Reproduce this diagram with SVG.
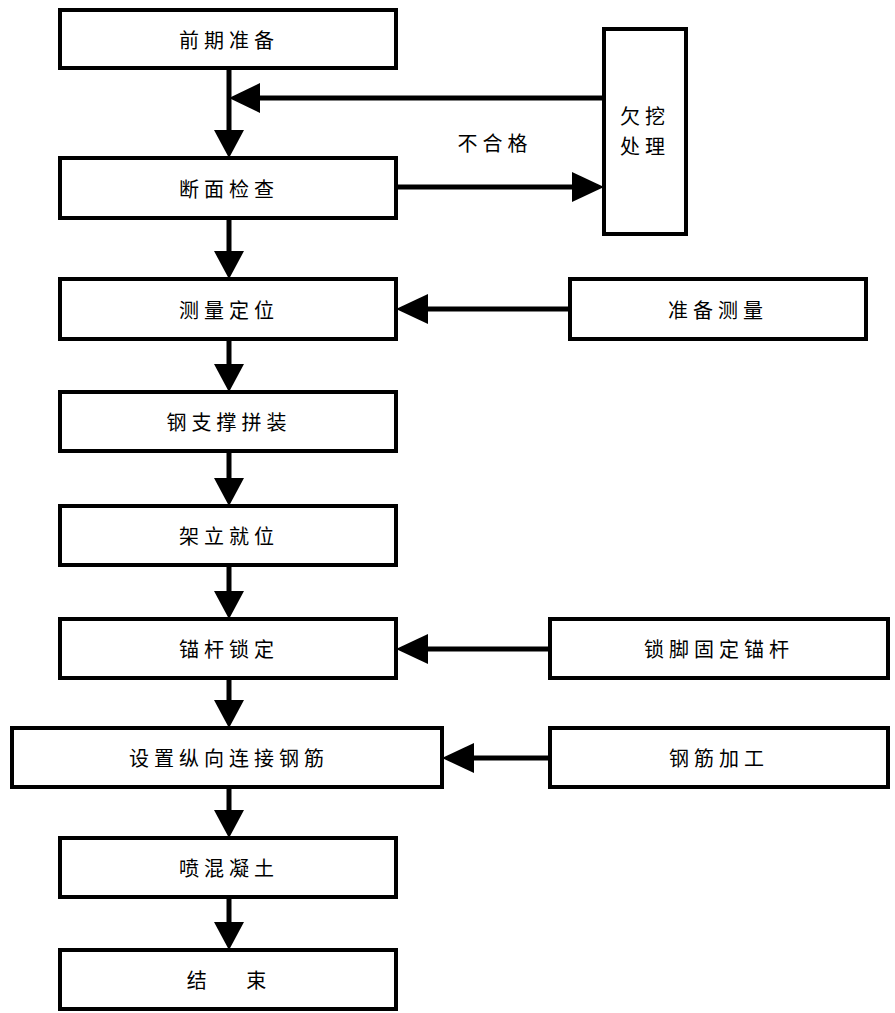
<svg xmlns="http://www.w3.org/2000/svg" width="895" height="1013" viewBox="0 0 895 1013">
<style>
rect{fill:#fff;stroke:#000;stroke-width:4}
text{font-family:"Noto Sans CJK SC","Noto Sans",sans-serif;font-size:20px;letter-spacing:5px;text-anchor:middle;dominant-baseline:central}
.c line{stroke:#000;stroke-width:5}
.c polygon{fill:#000}
</style>
<rect x="0" y="0" width="895" height="1013" style="stroke:none"/>
<g class="c">
<line x1="229" y1="68" x2="229" y2="132"/><polygon points="214,130 244,130 229,158"/>
<line x1="229" y1="218" x2="229" y2="253"/><polygon points="214,251 244,251 229,279"/>
<line x1="229" y1="339" x2="229" y2="366"/><polygon points="214,364 244,364 229,392"/>
<line x1="229" y1="451" x2="229" y2="480"/><polygon points="214,478 244,478 229,506"/>
<line x1="229" y1="565" x2="229" y2="593"/><polygon points="214,591 244,591 229,619"/>
<line x1="229" y1="678" x2="229" y2="702"/><polygon points="214,700 244,700 229,728"/>
<line x1="229" y1="787" x2="229" y2="812"/><polygon points="214,810 244,810 229,838"/>
<line x1="229" y1="897" x2="229" y2="924"/><polygon points="214,922 244,922 229,950"/>
<line x1="604" y1="98" x2="258" y2="98"/><polygon points="260,83 260,113 229,98"/>
<line x1="396" y1="187" x2="574" y2="187"/><polygon points="572,172 572,202 604,187"/>
<line x1="570" y1="309" x2="426" y2="309"/><polygon points="428,294 428,324 396,309"/>
<line x1="550" y1="649" x2="426" y2="649"/><polygon points="428,634 428,664 396,649"/>
<line x1="550" y1="758" x2="472" y2="758"/><polygon points="474,743 474,773 442,758"/>
</g>
<text x="495" y="142">不合格</text>
<g id="n1"><rect x="60" y="10" width="336" height="58"/><text x="229" y="39">前期准备</text></g>
<g id="n2"><rect x="60" y="158" width="336" height="60"/><text x="229" y="188">断面检查</text></g>
<g id="n3"><rect x="60" y="279" width="336" height="60"/><text x="229" y="309">测量定位</text></g>
<g id="n4"><rect x="60" y="392" width="336" height="59"/><text x="229" y="421">钢支撑拼装</text></g>
<g id="n5"><rect x="60" y="506" width="336" height="59"/><text x="229" y="535">架立就位</text></g>
<g id="n6"><rect x="60" y="619" width="336" height="59"/><text x="229" y="648">锚杆锁定</text></g>
<g id="n7"><rect x="12" y="728" width="430" height="59"/><text x="229" y="757">设置纵向连接钢筋</text></g>
<g id="n8"><rect x="60" y="838" width="336" height="59"/><text x="229" y="867">喷混凝土</text></g>
<g id="n9"><rect x="60" y="950" width="336" height="59"/><text x="229" y="979">结　 束</text></g>
<g id="r1"><rect x="604" y="29" width="82" height="205"/><text x="645" y="115">欠挖</text><text x="645" y="145">处理</text></g>
<g id="r2"><rect x="570" y="279" width="296" height="60"/><text x="718" y="309">准备测量</text></g>
<g id="r3"><rect x="550" y="619" width="338" height="59"/><text x="719" y="648">锁脚固定锚杆</text></g>
<g id="r4"><rect x="550" y="728" width="338" height="59"/><text x="719" y="757">钢筋加工</text></g>
</svg>
